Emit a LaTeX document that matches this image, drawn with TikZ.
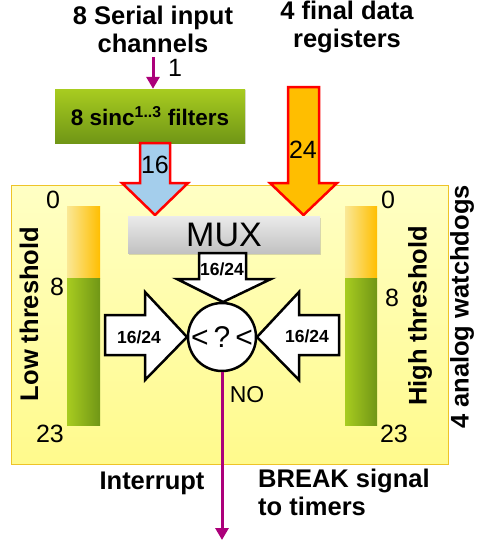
\documentclass[tikz,border=0pt]{standalone}
\usepackage{fontspec}
\setmainfont{Liberation Sans}
\usetikzlibrary{arrows.meta,shadows}
\definecolor{signal}{RGB}{172,0,122}
\definecolor{leafgreen}{RGB}{168,204,32}
\definecolor{darkleaf}{RGB}{112,150,22}
\definecolor{paleblue}{RGB}{164,206,236}
\definecolor{amber}{RGB}{255,190,0}
\definecolor{paleamber}{RGB}{250,232,150}
\definecolor{panelfill}{RGB}{255,255,196}
\definecolor{panelbot}{RGB}{255,250,140}
\definecolor{panelline}{RGB}{238,196,40}
\newcommand{\fsz}[2]{\fontsize{#1}{#2}\selectfont}

\begin{document}
\begin{tikzpicture}[x=1pt,y=-1pt,
        label/.style={font=\fsz{25.5}{28}\bfseries,align=center,inner sep=0pt},
        digit/.style={font=\fsz{25}{28},inner sep=0pt},
        small/.style={font=\fsz{17.5}{20}\bfseries,inner sep=0pt},
        redarrow/.style={draw=red,line width=2.5pt,line join=miter},
        blackarrow/.style={draw=black,fill=white,line width=2.5pt,line join=miter},
        wire/.style={draw=signal,line width=3pt,-{Triangle[length=12pt,width=13pt]}}]
      \useasboundingbox (0,0) rectangle (481,547);
      % titles
      \node[label] (inputs) at (153,29) {8 Serial input\\channels};
      \node[label] (regs) at (347,27) {4 final data\\registers};
      % sinc filters
      \node[draw=none,top color=leafgreen,bottom color=darkleaf,drop shadow={opacity=0.25,shadow xshift=1pt,shadow yshift=-1pt},
        minimum width=190pt,minimum height=54pt,font=\fsz{22.5}{26}\bfseries] (sinc) at (150,116)
        {8 sinc\textsuperscript{1..3} filters};
      \coordinate (inTop) at (153,57);
      \draw[wire] (inTop) -- (sinc.north -| inTop);
      \node[digit] (one) at (175,68) {1};
      % watchdog panel
      \node[draw=panelline,line width=1pt,top color=panelfill,bottom color=panelbot,
        drop shadow={opacity=0.25,shadow xshift=1pt,shadow yshift=-1pt},
        minimum width=437pt,minimum height=279pt,inner sep=0pt] (panel) at (229.5,324.5) {};
      % threshold bars
      \shade[left color=paleamber,right color=amber] (67,206) rectangle (100,278);
      \shade[left color=leafgreen,right color=darkleaf] (67,278) rectangle (100,425);
      \shade[left color=paleamber,right color=amber] (345,206) rectangle (377,278);
      \shade[left color=leafgreen,right color=darkleaf] (345,278) rectangle (377,425);
      \node[digit] (lowZero) at (53,200) {0};
      \node[digit] (lowEight) at (57,287) {8};
      \node[digit] (lowEnd) at (50,434) {23};
      \node[digit] (highZero) at (388,200) {0};
      \node[digit] (highEight) at (392,298) {8};
      \node[digit] (highEnd) at (394,434) {23};
      \node[label,rotate=90] (low) at (29,314) {Low threshold};
      \node[label,rotate=90] (high) at (420,316) {High threshold};
      \node[label,rotate=90,fill=white,inner sep=1pt] (dogs) at (462,307) {4 analog watchdogs};
      % data paths
      \draw[redarrow,fill=paleblue] (140,143) -- (170,143) -- (170,183) -- (188,183) -- (155,215)
        -- (122,183) -- (140,183) -- cycle;
      \node[digit] (sixteen) at (155,165) {16};
      \draw[redarrow,fill=amber] (288,87) -- (319,87) -- (319,183) -- (337,183) -- (303.5,215)
        -- (270,183) -- (288,183) -- cycle;
      \node[digit] (twentyfour) at (303,150) {24};
      \node[top color=black!8,bottom color=black!24,drop shadow={opacity=0.3,shadow xshift=1pt,shadow yshift=-1.5pt},
        minimum width=192pt,minimum height=37pt,inner sep=0pt,font=\fsz{34}{38}] (mux) at (224,234.5) {MUX};
      % comparator
      \node[circle,draw,line width=2.5pt,fill=white,minimum size=68pt,inner sep=0pt,font=\fsz{30}{34}] (cmp) at (222,337) {<\,?\,<};
      \draw[blackarrow] (199,253) -- (246,253) -- (246,279) -- (271,279) -- (223,302) -- (177,279)
        -- (199,279) -- cycle;
      \node[small] (muxBus) at (222,269) {16/24};
      \draw[blackarrow] (105,315) -- (145,315) -- (145,292) -- (187,337) -- (145,380) -- (145,355)
        -- (105,355) -- cycle;
      \node[small] (lowBus) at (139,337) {16/24};
      \draw[blackarrow] (339,315) -- (299,315) -- (299,292) -- (257,337) -- (299,380) -- (299,355)
        -- (339,355) -- cycle;
      \node[small] (highBus) at (307,336) {16/24};
      % outputs
      \coordinate (outEnd) at (222,540);
      \draw[wire] (cmp.south) -- (outEnd);
      \node[font=\fsz{23}{26},inner sep=0pt] (no) at (247,395) {NO};
      \node[label] (irq) at (152,483) {Interrupt};
      \node[label,align=left,anchor=north west] (brk) at (258,469) {BREAK signal\\to timers};
\end{tikzpicture}
\end{document}
